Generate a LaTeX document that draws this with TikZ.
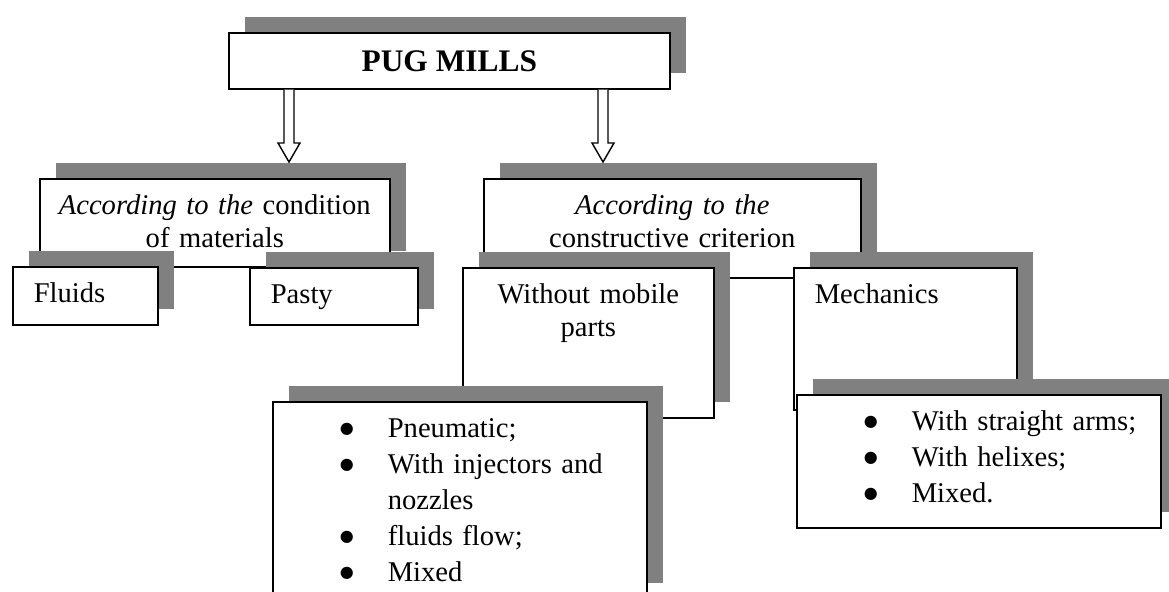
\documentclass[tikz,border=0pt]{standalone}
\usepackage{fontspec}
\setmainfont{Liberation Serif}
\newfontfamily\bulletfont{DejaVu Sans}
\usepackage{tikz}
\usetikzlibrary{shadows,calc,positioning}

% bullet line inside a list box
\newcommand\itm[1]{\hspace*{23pt}\makebox[24pt][l]{\raisebox{2.2pt}{\bulletfont\fontsize{8}{8}\selectfont ●}}#1}
% open white arrow going down from #1 to the level of #2
\newcommand\hollowarrow[2]{%
  \draw[fill=white, line width=.7pt] let \p1=(#1), \p2=(#2) in
    (\x1-2.5pt,\y1) -- (\x1-2.5pt,\y2+9.5pt) -- (\x1-5.5pt,\y2+9.5pt) -- (\x1,\y2)
    -- (\x1+5.5pt,\y2+9.5pt) -- (\x1+2.5pt,\y2+9.5pt) -- (\x1+2.5pt,\y1);}

\begin{document}
\begin{tikzpicture}
  [font=\fontsize{14.3}{16.5}\selectfont,
  shadowbox/.style={rectangle, draw=black, fill=white, line width=.8pt, anchor=north west,
    drop shadow={shadow xshift=8pt, shadow yshift=8pt, fill=black!50, opacity=1}},
  tbox/.style={shadowbox, inner xsep=10.5pt, inner ysep=8.2pt, text height=9.8pt},
  listbox/.style={tbox, align=left, font=\fontsize{14.3}{18}\selectfont}]
  \useasboundingbox (0,0) rectangle (584.5pt,-296pt);

  \node (pug) [shadowbox, minimum width=220.5pt, minimum height=28pt, inner sep=0pt,
    font=\fontsize{15.7}{18}\selectfont\bfseries] at (114pt,-16pt) {PUG MILLS};

% Condition of materials
\node (cond) [tbox, align=center, inner xsep=8pt, text width=159pt, text depth=17.8pt] at (19.5pt,-89pt)
  {\textit{According to the} condition\\of materials};
\node (cons) [tbox, align=center, text width=167.5pt, text depth=23.3pt] at (241.5pt,-89pt)
  {\textit{According to the}\\constructive criterion};
\node (fluids) [tbox, align=left, text width=51.5pt, text depth=2.8pt] at (6pt,-133pt) {Fluids};
\node (pasty) [tbox, align=left, text width=63pt, text depth=2.3pt] at (124.5pt,-133.5pt) {Pasty};

% Constructive criterion
\node (without) [tbox, align=center, text width=104.5pt, text depth=48.8pt] at (231pt,-133.5pt)
  {Without mobile\\parts};
\node (mech) [tbox, align=left, text width=90.5pt, text depth=44.8pt] at (396.5pt,-133.5pt) {Mechanics};
\node (pneu) [listbox, text width=166pt, text depth=72.3pt] at (136pt,-200.5pt)
  {\itm{Pneumatic;}\\\itm{With injectors and}\\\hspace*{47pt}nozzles\\\itm{fluids flow;}\\\itm{Mixed}};
\node (mlist) [listbox, text width=161pt, text depth=40.3pt] at (398pt,-197pt)
  {\itm{With straight arms;}\\\itm{With helixes;}\\\itm{Mixed.}};

\coordinate (arrL) at ($(pug.south west)+(30.5pt,0)$);
\coordinate (arrR) at ($(pug.south west)+(187.5pt,0)$);
\hollowarrow{arrL}{[yshift=8pt]cond.north}
\hollowarrow{arrR}{[yshift=8pt]cons.north}
\end{tikzpicture}
\end{document}
